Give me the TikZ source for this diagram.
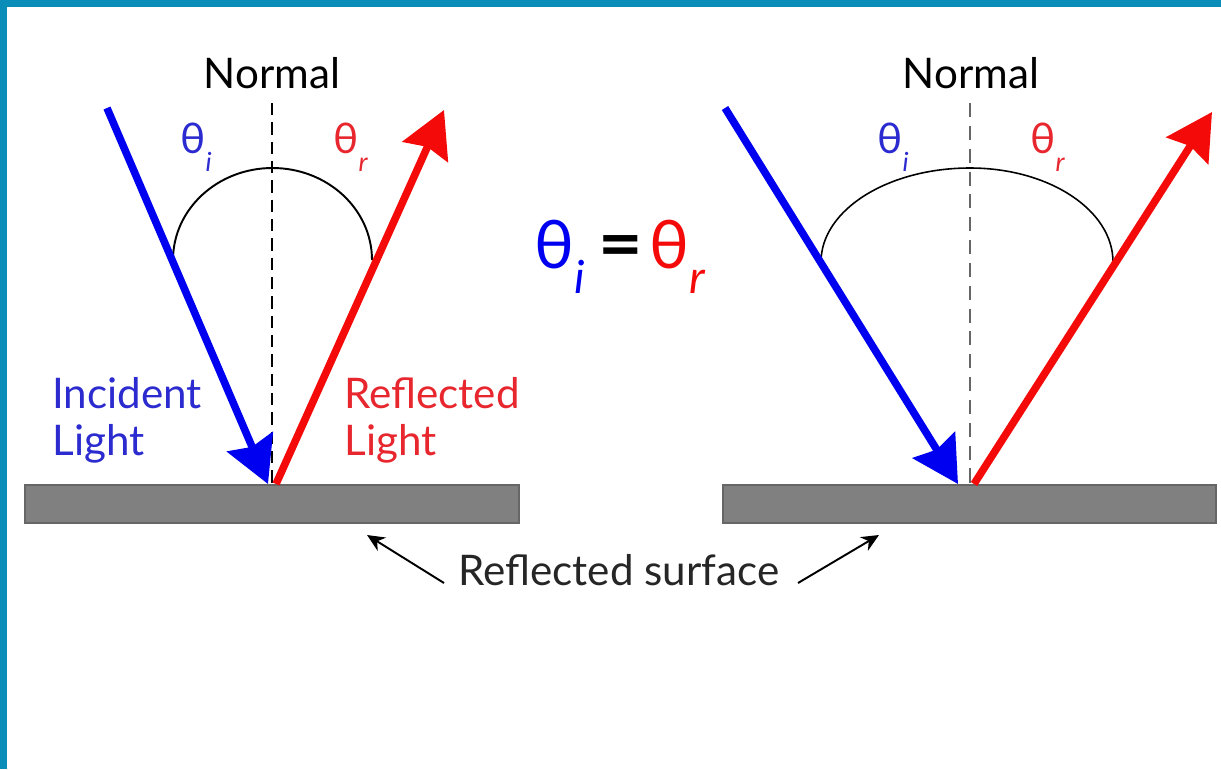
\documentclass[tikz,border=0pt]{standalone}
\usepackage{fontspec}
\setmainfont{Lato}
\usetikzlibrary{arrows.meta, positioning}
\definecolor{frameblue}{HTML}{0A8DB8}
\definecolor{rayblue}{HTML}{0000F0}
\definecolor{rayred}{HTML}{F50A0A}
\definecolor{txtblue}{HTML}{2B2BD0}
\definecolor{txtred}{HTML}{E8262E}
\definecolor{surfgray}{HTML}{808080}
\newcommand{\thsub}[3]{θ\raisebox{-#3}{\fontsize{#2}{#2}\selectfont\itshape #1}}

\begin{document}
\begin{tikzpicture}[x=0.02cm, y=-0.02cm,
	lbl/.style={font=\fontsize{24}{28}\selectfont, inner sep=0pt},
	ray/.style={line width=4.3pt, -{Stealth[length=26pt, width=28pt, inset=3pt]}},
	surface/.style={fill=surfgray, draw=black!60, line width=0.9pt},
	angarc/.style={line width=1.1pt},
	pointer/.style={line width=1.1pt, -{Stealth[length=10pt, width=9pt]}}]
	\fill[white] (0,0) rectangle (1221,769);
	\fill[frameblue] (0,0) rectangle (1221,7);
	\fill[frameblue] (0,0) rectangle (7,769);
	% left: normal incidence sketch
	\coordinate (inL) at (107,108);
	\coordinate (hitL) at (268,484);
	\coordinate (baseL) at (276,484);
	\coordinate (outL) at (444,110);
	\coordinate (nTopL) at (272,103);
	\coordinate (nBotL) at (272,484);
	\draw[surface] (25,485) rectangle (519,523);
	\draw[line width=1.1pt, dash pattern=on 7pt off 4pt] (nTopL) -- (nBotL);
	\draw[angarc] (173,260) arc[start angle=180, end angle=360, x radius=99.5, y radius=92];
	\draw[ray, rayblue] (inL) -- (hitL);
	\draw[ray, rayred] (baseL) -- (outL);
	\node[lbl, anchor=base] (normL) at (272,88) {Normal};
	\node[lbl, txtblue, anchor=base west] (thiL) at (180,153) {\thsub{i}{15pt}{0.45em}};
	\node[lbl, txtred, anchor=base west] (thrL) at (333,153) {\thsub{r}{15pt}{0.45em}};
	\node[lbl, txtblue, anchor=base west] (incA) at (52,408) {Incident};
	\node[lbl, txtblue, anchor=base west] (incB) at (52,455) {Light};
	\node[lbl, txtred, anchor=base west] (refA) at (344,408) {Reflected};
	\node[lbl, txtred, anchor=base west] (refB) at (344,455) {Light};
	% middle: the law
	\node[inner sep=0pt, anchor=base west, font=\fontsize{38}{42}\selectfont] (law) at (534,268)
		{\textcolor{rayblue}{\thsub{i}{26pt}{0.38em}}\hspace{0.2em}\textbf{\scalebox{1.15}[1.05]{=}}\hspace{0.1em}\textcolor{rayred}{\thsub{r}{26pt}{0.38em}}};
	% right: wider angle
	\coordinate (inR) at (725,108);
	\coordinate (hitR) at (958,484);
	\coordinate (baseR) at (974,484);
	\coordinate (outR) at (1212,112);
	\coordinate (nTopR) at (970,103);
	\coordinate (nBotR) at (970,484);
	\draw[surface] (723,485) rectangle (1216,523);
	\draw[black!60, line width=0.7pt, dash pattern=on 8pt off 5pt] (nTopR) -- (nBotR);
	\draw[angarc, line width=0.9pt] (821,262) arc[start angle=180, end angle=270, x radius=149, y radius=94]
		arc[start angle=270, end angle=360, x radius=143, y radius=94];
	\draw[ray, rayblue] (inR) -- (hitR);
	\draw[ray, rayred] (baseR) -- (outR);
	\node[lbl, anchor=base] (normR) at (971,88) {Normal};
	\node[lbl, txtblue, anchor=base west] (thiR) at (877,153) {\thsub{i}{15pt}{0.45em}};
	\node[lbl, txtred, anchor=base west] (thrR) at (1030,153) {\thsub{r}{15pt}{0.45em}};
	% surface label
	\node[lbl, anchor=base west, black!85] (surfLbl) at (458,585) {Reflected surface};
	\coordinate (tailL) at (444,583);
	\coordinate (tipL) at (367,535);
	\coordinate (tailR) at (798,583);
	\coordinate (tipR) at (879,535);
	\draw[pointer] (tailL) -- (tipL);
	\draw[pointer] (tailR) -- (tipR);
\end{tikzpicture}
\end{document}
